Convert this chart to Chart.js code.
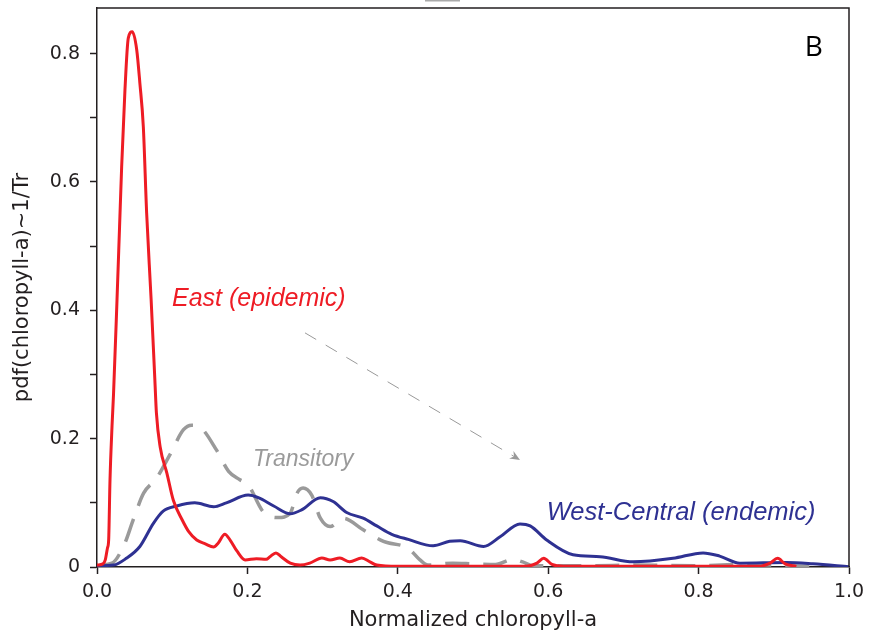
<!DOCTYPE html>
<html lang="en">
<head>
<meta charset="UTF-8">
<title>pdf of normalized chlorophyll-a</title>
<script src="https://cdn.jsdelivr.net/npm/chart.js"></script>
<style>
    body { margin: 0; background: #fff; }
    #wrap { width: 869px; height: 635px; }
</style>
</head>
<body>
<div id="wrap"><canvas id="pdfChart" width="869" height="635"></canvas></div>
<script>
// East (epidemic) - red
const eastX = [0, 0.008, 0.011, 0.014, 0.0155, 0.0173, 0.020, 0.022, 0.0266, 0.030, 0.0328, 0.0372, 0.0416, 0.047,
    0.0528, 0.057, 0.0616, 0.066, 0.072, 0.077, 0.079, 0.084, 0.093, 0.1015, 0.113, 0.122, 0.1326, 0.144, 0.155,
    0.161, 0.170, 0.177, 0.186, 0.197, 0.212, 0.225, 0.230, 0.238, 0.245, 0.257, 0.270, 0.283, 0.299, 0.310, 0.323,
    0.336, 0.352, 0.363, 0.372, 0.40, 0.50, 0.57, 0.585, 0.594, 0.605, 0.62, 0.75, 0.88, 0.895, 0.905, 0.915, 0.93];
const eastY = [0.003, 0.005, 0.011, 0.030, 0.042, 0.136, 0.22, 0.27, 0.416, 0.53, 0.624, 0.744, 0.824, 0.834,
    0.806, 0.754, 0.686, 0.552, 0.416, 0.29, 0.24, 0.187, 0.146, 0.104, 0.074, 0.055, 0.042, 0.036, 0.031,
    0.037, 0.051, 0.042, 0.025, 0.011, 0.013, 0.012, 0.016, 0.022, 0.016, 0.006, 0.003, 0.006, 0.014, 0.011, 0.014,
    0.008, 0.014, 0.008, 0.003, 0.001, 0.001, 0.001, 0.006, 0.0135, 0.004, 0.001, 0.001, 0.001, 0.006, 0.0135, 0.005, 0.001];

// West-Central (endemic) - blue
const westX = [0, 0.022, 0.039, 0.057, 0.075, 0.088, 0.106, 0.130, 0.155, 0.172, 0.201, 0.2145, 0.235, 0.257, 0.272,
    0.297, 0.314, 0.332, 0.354, 0.372, 0.392, 0.414, 0.447, 0.469, 0.483, 0.514, 0.536, 0.5625, 0.576, 0.598,
    0.633, 0.669, 0.713, 0.766, 0.806, 0.828, 0.855, 0.917, 0.952, 1.0];
const westY = [0.002, 0.003, 0.0135, 0.032, 0.068, 0.087, 0.095, 0.100, 0.094, 0.100, 0.112, 0.108, 0.095, 0.083, 0.089,
    0.108, 0.102, 0.085, 0.076, 0.064, 0.051, 0.043, 0.033, 0.040, 0.041, 0.032, 0.047, 0.067, 0.064, 0.042,
    0.019, 0.016, 0.008, 0.0135, 0.022, 0.017, 0.006, 0.007, 0.005, 0.0005];

// Transitory - grey dashed
const transX = [0.004, 0.02, 0.037, 0.048, 0.062, 0.079, 0.097, 0.115, 0.126, 0.139, 0.159, 0.175, 0.190, 0.201,
    0.221, 0.241, 0.257, 0.266, 0.274, 0.2855, 0.297, 0.310, 0.3275, 0.354, 0.381, 0.414, 0.4295, 0.44, 0.473,
    0.50, 0.53, 0.553, 0.566, 0.58, 0.65, 0.72, 0.80, 0.86, 0.90, 0.95];
const transY = [0.003, 0.006, 0.037, 0.073, 0.115, 0.138, 0.175, 0.214, 0.221, 0.216, 0.182, 0.149, 0.136, 0.128,
    0.086, 0.077, 0.084, 0.115, 0.123, 0.112, 0.076, 0.063, 0.076, 0.058, 0.040, 0.029, 0.011, 0.003, 0.006,
    0.005, 0.004, 0.012, 0.008, 0.002, 0.002, 0.003, 0.002, 0.004, 0.003, 0.001];

const xTicks = [0, 0.2, 0.4, 0.6, 0.8, 1.0];
const yMax = 0.871;

function pts(xs, ys) {
    return xs.map((x, i) => ({ x: x, y: ys[i] }));
}

const tickFont = { family: 'DejaVu Sans', size: 19 };
const titleFont = { family: 'DejaVu Sans', size: 21 };
const ink = '#231f20';

// annotations: texts, panel letter, arrow and the top/right frame
const annotate = {
    id: 'annotate',
    afterDraw(chart) {
        const { ctx, chartArea: a, scales: { x, y } } = chart;
        ctx.save();
        // frame top + right
        ctx.strokeStyle = ink;
        ctx.lineWidth = 1.5;
        ctx.beginPath();
        ctx.moveTo(a.left, a.top);
        ctx.lineTo(a.right, a.top);
        ctx.lineTo(a.right, a.bottom);
        ctx.stroke();

        // cut-off grey bar at the very top
        ctx.fillStyle = '#aaa';
        ctx.fillRect(425, 0, 35, 1.5);

        ctx.textBaseline = 'alphabetic';
        ctx.textAlign = 'left';
        ctx.font = 'italic 25px "Liberation Sans"';
        ctx.fillStyle = '#ee1c25';
        ctx.fillText('East (epidemic)', x.getPixelForValue(0.0997), y.getPixelForValue(0.406));

        ctx.font = 'italic 23px "Liberation Sans"';
        ctx.fillStyle = '#9a9a9a';
        ctx.fillText('Transitory', x.getPixelForValue(0.2074), y.getPixelForValue(0.157));

        ctx.font = 'italic 25.5px "Liberation Sans"';
        ctx.fillStyle = '#2e3192';
        ctx.fillText('West-Central (endemic)', x.getPixelForValue(0.598), y.getPixelForValue(0.073));

        ctx.font = '28px "Open Sans"';
        ctx.fillStyle = '#000';
        ctx.fillText('B', x.getPixelForValue(0.941), y.getPixelForValue(0.7955));

        // dashed arrow
        const x0 = x.getPixelForValue(0.2766), y0 = y.getPixelForValue(0.3648);
        const x1 = x.getPixelForValue(0.5625), y1 = y.getPixelForValue(0.1668);
        ctx.strokeStyle = '#999';
        ctx.lineWidth = 1;
        ctx.setLineDash([13, 11]);
        ctx.beginPath();
        ctx.moveTo(x0, y0);
        ctx.lineTo(x1 - 4, y1 - 2.3);
        ctx.stroke();
        ctx.setLineDash([]);
        const ang = Math.atan2(y1 - y0, x1 - x0);
        ctx.fillStyle = '#999';
        ctx.beginPath();
        ctx.moveTo(x1, y1);
        ctx.lineTo(x1 - 11 * Math.cos(ang - 0.4), y1 - 11 * Math.sin(ang - 0.4));
        ctx.lineTo(x1 - 7 * Math.cos(ang), y1 - 7 * Math.sin(ang));
        ctx.lineTo(x1 - 11 * Math.cos(ang + 0.4), y1 - 11 * Math.sin(ang + 0.4));
        ctx.closePath();
        ctx.fill();
        ctx.restore();
    }
};

new Chart(document.getElementById('pdfChart'), {
    type: 'scatter',
    data: {
        datasets: [
            {
                label: 'East (epidemic)',
                data: pts(eastX, eastY),
                borderColor: '#ee1c25',
                borderWidth: 3,
                order: 0
            },
            {
                label: 'West-Central (endemic)',
                data: pts(westX, westY),
                borderColor: '#2e3192',
                borderWidth: 3,
                order: 1
            },
            {
                label: 'Transitory',
                data: pts(transX, transY),
                borderColor: '#9a9a9a',
                borderWidth: 3.5,
                borderDash: [24, 14],
                order: 2
            }
        ]
    },
    options: {
        responsive: false,
        devicePixelRatio: 1,
        animation: false,
        showLine: true,
        elements: {
            point: { radius: 0, hoverRadius: 0 },
            line: { cubicInterpolationMode: 'monotone', fill: false }
        },
        layout: { padding: { top: 8, right: 20, left: 0, bottom: 0 } },
        plugins: {
            legend: { display: false },
            tooltip: { enabled: false }
        },
        scales: {
            x: {
                type: 'linear',
                min: 0,
                max: 1,
                afterFit: s => {
                    s.height = 68;
                    s.paddingLeft = 0;
                    s.paddingRight = 0;
                },
                afterBuildTicks: s => { s.ticks = xTicks.map(v => ({ value: v })); },
                ticks: {
                    font: tickFont,
                    color: ink,
                    padding: 7,
                    maxRotation: 0,
                    callback: v => v.toFixed(1)
                },
                grid: { drawOnChartArea: false, drawTicks: true, tickLength: 7, tickColor: ink, tickWidth: 1.5 },
                border: { display: true, color: ink, width: 1.5 },
                title: {
                    display: true,
                    text: 'Normalized chloropyll-a',
                    font: titleFont,
                    color: ink,
                    padding: { top: 0, bottom: 2 }
                }
            },
            y: {
                type: 'linear',
                min: 0,
                max: yMax,
                afterFit: s => {
                    s.width = 97;
                    s.paddingTop = 0;
                    s.paddingBottom = 0;
                },
                ticks: {
                    stepSize: 0.1,
                    includeBounds: false,
                    font: tickFont,
                    color: ink,
                    padding: 10,
                    autoSkip: false,
                    callback: v => {
                        const k = Math.round(v * 10);
                        if (k % 2 !== 0) return '';
                        return k === 0 ? '0' : (k / 10).toFixed(1);
                    }
                },
                grid: { drawOnChartArea: false, drawTicks: true, tickLength: 7, tickColor: ink, tickWidth: 1.5 },
                border: { display: true, color: ink, width: 1.5 },
                title: {
                    display: true,
                    text: 'pdf(chloropyll-a)~1/Tr',
                    font: titleFont,
                    color: ink,
                    padding: { top: 10, bottom: 0 }
                }
            }
        }
    },
    plugins: [annotate]
});
</script>
</body>
</html>
